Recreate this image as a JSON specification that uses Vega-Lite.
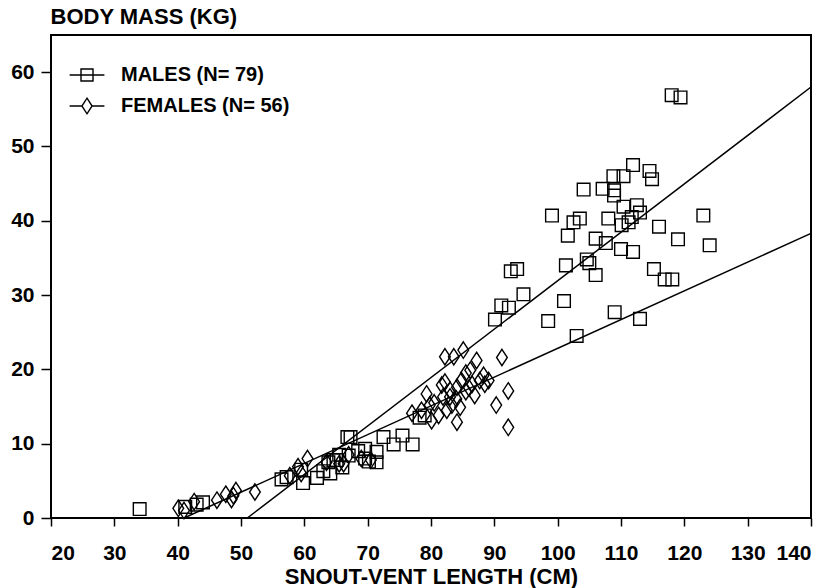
{
  "$schema": "https://vega.github.io/schema/vega-lite/v6.json",
  "width": 760,
  "height": 483,
  "autosize": "none",
  "padding": {"left": 51, "top": 35, "right": 25, "bottom": 70},
  "background": "white",
  "config": {
    "font": "Liberation Sans",
    "view": {"stroke": "black", "strokeWidth": 2},
    "axis": {
      "grid": false,
      "domain": false,
      "tickColor": "black",
      "tickWidth": 1.5,
      "labelColor": "black",
      "labelFont": "Liberation Sans",
      "labelFontWeight": "bold",
      "labelFontSize": 21,
      "titleColor": "black",
      "titleFont": "Liberation Sans",
      "titleFontWeight": "bold",
      "titleFontSize": 22
    }
  },
  "datasets": {
    "points": [
      {"sex": "MALES (N= 79)", "svl": 118.0, "mass": 56.9},
      {"sex": "MALES (N= 79)", "svl": 119.4, "mass": 56.6},
      {"sex": "MALES (N= 79)", "svl": 111.9, "mass": 47.5},
      {"sex": "MALES (N= 79)", "svl": 108.8, "mass": 46.0},
      {"sex": "MALES (N= 79)", "svl": 110.4, "mass": 46.0},
      {"sex": "MALES (N= 79)", "svl": 114.5, "mass": 46.7},
      {"sex": "MALES (N= 79)", "svl": 114.9, "mass": 45.6},
      {"sex": "MALES (N= 79)", "svl": 104.1, "mass": 44.2},
      {"sex": "MALES (N= 79)", "svl": 107.1, "mass": 44.3},
      {"sex": "MALES (N= 79)", "svl": 108.9, "mass": 44.1},
      {"sex": "MALES (N= 79)", "svl": 108.9, "mass": 43.4},
      {"sex": "MALES (N= 79)", "svl": 110.4, "mass": 41.9},
      {"sex": "MALES (N= 79)", "svl": 112.5, "mass": 42.1},
      {"sex": "MALES (N= 79)", "svl": 113.0, "mass": 41.1},
      {"sex": "MALES (N= 79)", "svl": 111.7, "mass": 40.5},
      {"sex": "MALES (N= 79)", "svl": 99.1, "mass": 40.7},
      {"sex": "MALES (N= 79)", "svl": 102.5, "mass": 39.8},
      {"sex": "MALES (N= 79)", "svl": 103.5, "mass": 40.3},
      {"sex": "MALES (N= 79)", "svl": 108.0, "mass": 40.3},
      {"sex": "MALES (N= 79)", "svl": 110.1, "mass": 39.4},
      {"sex": "MALES (N= 79)", "svl": 111.2, "mass": 39.8},
      {"sex": "MALES (N= 79)", "svl": 123.0, "mass": 40.7},
      {"sex": "MALES (N= 79)", "svl": 116.0, "mass": 39.2},
      {"sex": "MALES (N= 79)", "svl": 101.6, "mass": 38.0},
      {"sex": "MALES (N= 79)", "svl": 106.0, "mass": 37.6},
      {"sex": "MALES (N= 79)", "svl": 107.6, "mass": 37.0},
      {"sex": "MALES (N= 79)", "svl": 119.0, "mass": 37.5},
      {"sex": "MALES (N= 79)", "svl": 124.0, "mass": 36.7},
      {"sex": "MALES (N= 79)", "svl": 110.0, "mass": 36.2},
      {"sex": "MALES (N= 79)", "svl": 111.9, "mass": 35.8},
      {"sex": "MALES (N= 79)", "svl": 104.6, "mass": 34.8},
      {"sex": "MALES (N= 79)", "svl": 105.0, "mass": 34.3},
      {"sex": "MALES (N= 79)", "svl": 101.3, "mass": 34.0},
      {"sex": "MALES (N= 79)", "svl": 106.0, "mass": 32.7},
      {"sex": "MALES (N= 79)", "svl": 115.2, "mass": 33.5},
      {"sex": "MALES (N= 79)", "svl": 116.9, "mass": 32.1},
      {"sex": "MALES (N= 79)", "svl": 118.1, "mass": 32.1},
      {"sex": "MALES (N= 79)", "svl": 92.6, "mass": 33.2},
      {"sex": "MALES (N= 79)", "svl": 93.6, "mass": 33.5},
      {"sex": "MALES (N= 79)", "svl": 94.6, "mass": 30.1},
      {"sex": "MALES (N= 79)", "svl": 91.1, "mass": 28.6},
      {"sex": "MALES (N= 79)", "svl": 92.3, "mass": 28.3},
      {"sex": "MALES (N= 79)", "svl": 101.0, "mass": 29.2},
      {"sex": "MALES (N= 79)", "svl": 90.1, "mass": 26.7},
      {"sex": "MALES (N= 79)", "svl": 98.5, "mass": 26.5},
      {"sex": "MALES (N= 79)", "svl": 109.0, "mass": 27.7},
      {"sex": "MALES (N= 79)", "svl": 113.0, "mass": 26.8},
      {"sex": "MALES (N= 79)", "svl": 103.0, "mass": 24.5},
      {"sex": "MALES (N= 79)", "svl": 34.0, "mass": 1.2},
      {"sex": "MALES (N= 79)", "svl": 41.2, "mass": 1.5},
      {"sex": "MALES (N= 79)", "svl": 44.0, "mass": 2.1},
      {"sex": "MALES (N= 79)", "svl": 43.0, "mass": 1.8},
      {"sex": "MALES (N= 79)", "svl": 56.4, "mass": 5.2},
      {"sex": "MALES (N= 79)", "svl": 57.2, "mass": 5.5},
      {"sex": "MALES (N= 79)", "svl": 59.8, "mass": 4.7},
      {"sex": "MALES (N= 79)", "svl": 59.5, "mass": 6.5},
      {"sex": "MALES (N= 79)", "svl": 62.0, "mass": 5.4},
      {"sex": "MALES (N= 79)", "svl": 63.0, "mass": 6.3},
      {"sex": "MALES (N= 79)", "svl": 63.8, "mass": 7.5},
      {"sex": "MALES (N= 79)", "svl": 64.1, "mass": 6.0},
      {"sex": "MALES (N= 79)", "svl": 64.6, "mass": 7.8},
      {"sex": "MALES (N= 79)", "svl": 65.1, "mass": 7.8},
      {"sex": "MALES (N= 79)", "svl": 65.5, "mass": 8.5},
      {"sex": "MALES (N= 79)", "svl": 66.0, "mass": 6.8},
      {"sex": "MALES (N= 79)", "svl": 66.8, "mass": 10.9},
      {"sex": "MALES (N= 79)", "svl": 67.3, "mass": 10.9},
      {"sex": "MALES (N= 79)", "svl": 67.0, "mass": 8.4},
      {"sex": "MALES (N= 79)", "svl": 68.5, "mass": 9.0},
      {"sex": "MALES (N= 79)", "svl": 69.6, "mass": 9.3},
      {"sex": "MALES (N= 79)", "svl": 69.6, "mass": 8.0},
      {"sex": "MALES (N= 79)", "svl": 70.2, "mass": 7.6},
      {"sex": "MALES (N= 79)", "svl": 71.4, "mass": 8.9},
      {"sex": "MALES (N= 79)", "svl": 71.4, "mass": 7.5},
      {"sex": "MALES (N= 79)", "svl": 72.5, "mass": 10.9},
      {"sex": "MALES (N= 79)", "svl": 74.1, "mass": 9.9},
      {"sex": "MALES (N= 79)", "svl": 75.5, "mass": 11.1},
      {"sex": "MALES (N= 79)", "svl": 77.1, "mass": 9.9},
      {"sex": "MALES (N= 79)", "svl": 78.2, "mass": 13.5},
      {"sex": "MALES (N= 79)", "svl": 79.0, "mass": 13.8},
      {"sex": "FEMALES (N= 56)", "svl": 40.1, "mass": 1.3},
      {"sex": "FEMALES (N= 56)", "svl": 41.0, "mass": 1.0},
      {"sex": "FEMALES (N= 56)", "svl": 42.6, "mass": 2.2},
      {"sex": "FEMALES (N= 56)", "svl": 46.2, "mass": 2.4},
      {"sex": "FEMALES (N= 56)", "svl": 47.6, "mass": 3.2},
      {"sex": "FEMALES (N= 56)", "svl": 48.5, "mass": 2.5},
      {"sex": "FEMALES (N= 56)", "svl": 49.2, "mass": 3.7},
      {"sex": "FEMALES (N= 56)", "svl": 48.8, "mass": 3.0},
      {"sex": "FEMALES (N= 56)", "svl": 52.2, "mass": 3.5},
      {"sex": "FEMALES (N= 56)", "svl": 57.7, "mass": 5.7},
      {"sex": "FEMALES (N= 56)", "svl": 59.0, "mass": 6.9},
      {"sex": "FEMALES (N= 56)", "svl": 60.5, "mass": 8.0},
      {"sex": "FEMALES (N= 56)", "svl": 59.5, "mass": 6.0},
      {"sex": "FEMALES (N= 56)", "svl": 63.5, "mass": 7.5},
      {"sex": "FEMALES (N= 56)", "svl": 65.5, "mass": 7.3},
      {"sex": "FEMALES (N= 56)", "svl": 66.2, "mass": 7.3},
      {"sex": "FEMALES (N= 56)", "svl": 67.0, "mass": 8.5},
      {"sex": "FEMALES (N= 56)", "svl": 69.0, "mass": 8.0},
      {"sex": "FEMALES (N= 56)", "svl": 70.5, "mass": 7.8},
      {"sex": "FEMALES (N= 56)", "svl": 77.0, "mass": 14.1},
      {"sex": "FEMALES (N= 56)", "svl": 78.5, "mass": 14.5},
      {"sex": "FEMALES (N= 56)", "svl": 79.3, "mass": 16.7},
      {"sex": "FEMALES (N= 56)", "svl": 79.8, "mass": 15.2},
      {"sex": "FEMALES (N= 56)", "svl": 80.1, "mass": 13.1},
      {"sex": "FEMALES (N= 56)", "svl": 81.2, "mass": 13.8},
      {"sex": "FEMALES (N= 56)", "svl": 81.7, "mass": 17.9},
      {"sex": "FEMALES (N= 56)", "svl": 81.9, "mass": 16.3},
      {"sex": "FEMALES (N= 56)", "svl": 82.2, "mass": 21.7},
      {"sex": "FEMALES (N= 56)", "svl": 82.2, "mass": 18.3},
      {"sex": "FEMALES (N= 56)", "svl": 83.0, "mass": 16.3},
      {"sex": "FEMALES (N= 56)", "svl": 83.0, "mass": 17.2},
      {"sex": "FEMALES (N= 56)", "svl": 83.3, "mass": 15.2},
      {"sex": "FEMALES (N= 56)", "svl": 83.6, "mass": 21.7},
      {"sex": "FEMALES (N= 56)", "svl": 84.1, "mass": 17.6},
      {"sex": "FEMALES (N= 56)", "svl": 84.1, "mass": 12.9},
      {"sex": "FEMALES (N= 56)", "svl": 84.6, "mass": 14.9},
      {"sex": "FEMALES (N= 56)", "svl": 84.8, "mass": 18.5},
      {"sex": "FEMALES (N= 56)", "svl": 85.1, "mass": 22.6},
      {"sex": "FEMALES (N= 56)", "svl": 85.5, "mass": 17.0},
      {"sex": "FEMALES (N= 56)", "svl": 86.2, "mass": 19.9},
      {"sex": "FEMALES (N= 56)", "svl": 86.5, "mass": 18.0},
      {"sex": "FEMALES (N= 56)", "svl": 86.9, "mass": 16.5},
      {"sex": "FEMALES (N= 56)", "svl": 87.2, "mass": 21.2},
      {"sex": "FEMALES (N= 56)", "svl": 87.7, "mass": 18.5},
      {"sex": "FEMALES (N= 56)", "svl": 88.3, "mass": 19.2},
      {"sex": "FEMALES (N= 56)", "svl": 88.5, "mass": 18.0},
      {"sex": "FEMALES (N= 56)", "svl": 89.1, "mass": 18.5},
      {"sex": "FEMALES (N= 56)", "svl": 90.3, "mass": 15.2},
      {"sex": "FEMALES (N= 56)", "svl": 91.2, "mass": 21.6},
      {"sex": "FEMALES (N= 56)", "svl": 92.2, "mass": 17.1},
      {"sex": "FEMALES (N= 56)", "svl": 92.2, "mass": 12.2},
      {"sex": "FEMALES (N= 56)", "svl": 80.5, "mass": 15.5},
      {"sex": "FEMALES (N= 56)", "svl": 82.5, "mass": 14.5},
      {"sex": "FEMALES (N= 56)", "svl": 85.5, "mass": 19.5},
      {"sex": "FEMALES (N= 56)", "svl": 86.0, "mass": 17.5},
      {"sex": "FEMALES (N= 56)", "svl": 84.0, "mass": 16.0}
    ],
    "fits": [
      {"sex": "MALES (N= 79)", "svl": 51.0, "mass": 0},
      {"sex": "MALES (N= 79)", "svl": 140.0, "mass": 58.0},
      {"sex": "FEMALES (N= 56)", "svl": 41.0, "mass": 0},
      {"sex": "FEMALES (N= 56)", "svl": 140.0, "mass": 38.3}
    ]
  },
  "resolve": {"scale": {"shape": "independent"}},
  "layer": [
    {
      "data": {"name": "fits"},
      "mark": {"type": "line", "color": "black", "strokeWidth": 1.5},
      "encoding": {
        "x": {
          "field": "svl", "type": "quantitative",
          "scale": {"domain": [20, 140], "nice": false, "zero": false},
          "axis": {
            "values": [20, 30, 40, 50, 60, 70, 80, 90, 100, 110, 120, 130, 140],
            "tickSize": 8, "labelPadding": 16,
            "title": "SNOUT-VENT LENGTH (CM)",
            "titleBaseline": "alphabetic", "titleY": 65
          }
        },
        "y": {
          "field": "mass", "type": "quantitative",
          "scale": {"domain": [0, 65], "nice": false},
          "axis": {
            "values": [0, 10, 20, 30, 40, 50, 60],
            "tickSize": 10, "labelPadding": 7,
            "title": "BODY MASS (KG)",
            "titleAngle": 0, "titleAlign": "left", "titleBaseline": "alphabetic",
            "titleX": -1, "titleY": -12
          }
        },
        "detail": {"field": "sex", "type": "nominal"}
      }
    },
    {
      "data": {"name": "points"},
      "mark": {"type": "point", "filled": false, "color": "black", "strokeWidth": 1.4, "size": 160, "opacity": 1},
      "encoding": {
        "x": {"field": "svl", "type": "quantitative"},
        "y": {"field": "mass", "type": "quantitative"},
        "shape": {
          "field": "sex", "type": "nominal",
          "scale": {
            "domain": ["MALES (N= 79)", "FEMALES (N= 56)"],
            "range": ["M-1,-1H1V1H-1Z", "M0,-1.3L0.85,0L0,1.3L-0.85,0Z"]
          },
          "legend": null
        }
      }
    },
    {
      "data": {"name": "fits"},
      "mark": {"type": "point", "filled": false, "color": "black", "strokeWidth": 1.4, "size": 144, "opacity": 0},
      "encoding": {
        "x": {"field": "svl", "type": "quantitative"},
        "y": {"field": "mass", "type": "quantitative"},
        "shape": {
          "field": "sex", "type": "nominal",
          "scale": {
            "domain": ["MALES (N= 79)", "FEMALES (N= 56)"],
            "range": ["M-2.9,0H2.9M-1,-1H1V1H-1Z", "M-2.9,0H-0.85M0.85,0H2.9M0,-1.3L0.85,0L0,1.3L-0.85,0Z"]
          },
          "legend": {
            "orient": "none", "legendX": 26, "legendY": 30,
            "title": null,
            "symbolSize": 144,
            "symbolOpacity": 1,
            "symbolStrokeColor": "black",
            "symbolStrokeWidth": 1.4,
            "symbolFillColor": "transparent",
            "labelFont": "Liberation Sans",
            "labelFontWeight": "bold",
            "labelFontSize": 20,
            "labelColor": "black",
            "labelLimit": 400,
            "labelOffset": 24,
            "rowPadding": 10
          }
        }
      }
    }
  ]
}
